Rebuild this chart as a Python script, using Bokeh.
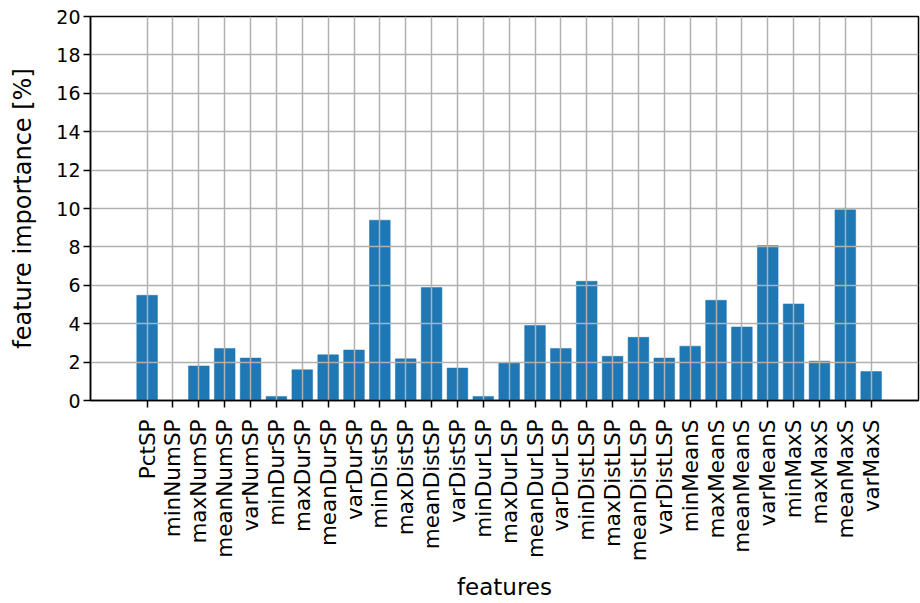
import math
from bokeh.plotting import figure
from bokeh.models import FixedTicker, Range1d, ColumnDataSource
from bokeh.embed import file_html
from bokeh.resources import INLINE

features = ["PctSP", "minNumSP", "maxNumSP", "meanNumSP", "varNumSP",
            "minDurSP", "maxDurSP", "meanDurSP", "varDurSP",
            "minDistSP", "maxDistSP", "meanDistSP", "varDistSP",
            "minDurLSP", "maxDurLSP", "meanDurLSP", "varDurLSP",
            "minDistLSP", "maxDistLSP", "meanDistLSP", "varDistLSP",
            "minMeanS", "maxMeanS", "meanMeanS", "varMeanS",
            "minMaxS", "maxMaxS", "meanMaxS", "varMaxS"]
importance = [5.48, 0.0, 1.80, 2.71, 2.21,
              0.21, 1.60, 2.38, 2.63,
              9.39, 2.17, 5.88, 1.69,
              0.21, 1.95, 3.91, 2.71,
              6.21, 2.30, 3.29, 2.21,
              2.83, 5.22, 3.83, 8.07,
              5.03, 2.05, 9.93, 1.51]
y_ticks = [0, 2, 4, 6, 8, 10, 12, 14, 16, 18, 20]

xs = list(range(len(features)))
src = ColumnDataSource(dict(x=xs, top=importance))

FONT = "DejaVu Sans"

p = figure(width=920, height=603, output_backend="svg", toolbar_location=None,
           x_range=Range1d(-2.19, 29.83), y_range=Range1d(0, 20),
           min_border_left=90, min_border_right=2, min_border_top=16, min_border_bottom=201)

p.vbar(x="x", top="top", width=0.8, source=src, fill_color="#1f77b4",
       line_color="#1f77b4", line_width=0.5, level="underlay")

p.xaxis.ticker = FixedTicker(ticks=xs)
p.xaxis.major_label_overrides = {i: f for i, f in enumerate(features)}
p.xaxis.major_label_orientation = math.pi / 2
p.yaxis.ticker = FixedTicker(ticks=y_ticks)

for ax in (p.xaxis, p.yaxis):
    ax.axis_line_color = "black"
    ax.axis_line_width = 1.5
    ax.major_tick_line_color = "black"
    ax.major_tick_line_width = 1.5
    ax.major_tick_out = 7
    ax.major_tick_in = 0
    ax.minor_tick_line_color = None
    ax.major_label_text_font = FONT
    ax.major_label_text_color = "black"
    ax.axis_label_text_font = FONT
    ax.axis_label_text_font_style = "normal"
    ax.axis_label_text_color = "black"

p.xaxis.major_label_text_font_size = "21.5px"
p.yaxis.major_label_text_font_size = "19px"
p.xaxis.major_label_standoff = 12
p.yaxis.major_label_standoff = 3
p.xaxis.axis_label = "features"
p.yaxis.axis_label = "feature importance [%]"
p.xaxis.axis_label_text_font_size = "23px"
p.yaxis.axis_label_text_font_size = "24px"
p.xaxis.axis_label_standoff = 10
p.yaxis.axis_label_standoff = 16

p.grid.grid_line_color = "#b0b0b0"
p.grid.grid_line_width = 1.5
p.grid.level = "glyph"

p.outline_line_color = "black"
p.outline_line_width = 1.5
p.background_fill_color = "white"
p.border_fill_color = "white"

open("out.html", "w").write(file_html(p, INLINE))
